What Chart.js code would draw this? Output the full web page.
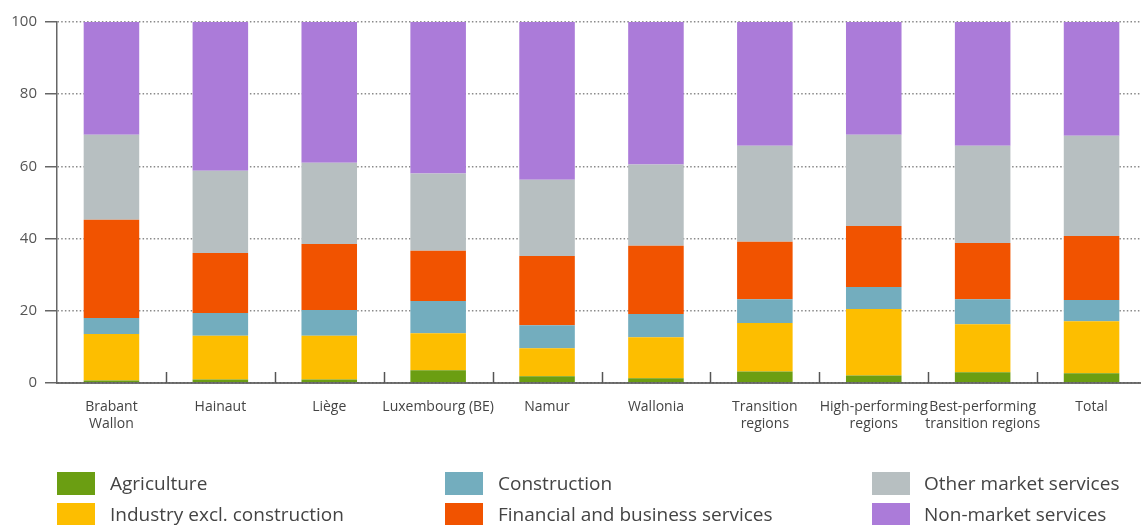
<!DOCTYPE html>
<html>
<head>
<meta charset="utf-8">
<script src="https://cdn.jsdelivr.net/npm/chart.js@4.4.1/dist/chart.umd.min.js"></script>
<style>
  html, body { margin: 0; padding: 0; background: #fff; }
  #wrap { position: relative; width: 1141px; height: 525px; overflow: hidden; }
  #c { position: absolute; left: 0; top: 0; }
  .lg { position: absolute; font-family: "Open Sans", "Noto Sans", sans-serif; font-size: 19px; color: #444; white-space: nowrap; }
  .lg .box { position: absolute; width: 38px; height: 23px; }
  .lg .txt { position: absolute; top: -2px; line-height: 26px; }
</style>
</head>
<body>
<div id="wrap">
  <canvas id="c" width="1146" height="525"></canvas>
  <div id="legend"></div>
</div>
<script>
const categories = [
  ["Brabant", "Wallon"], "Hainaut", "Liège", "Luxembourg (BE)", "Namur", "Wallonia",
  ["Transition", "regions"], ["High-performing", "regions"], ["Best-performing", "transition regions"], "Total"
];
const seriesNames = [
  "Agriculture", "Industry excl. construction", "Construction",
  "Financial and business services", "Other market services", "Non-market services"
];
const agriculture = [0.7, 1.0, 1.0, 3.5, 1.9, 1.3, 3.2, 2.1, 3.0, 2.7];
const industry    = [12.9, 12.1, 12.1, 10.3, 7.7, 11.4, 13.4, 18.4, 13.3, 14.4];
const construction = [4.4, 6.3, 7.1, 8.9, 6.4, 6.4, 6.6, 6.1, 6.9, 5.9];
const financial   = [27.2, 16.6, 18.3, 13.9, 19.2, 18.9, 15.9, 16.9, 15.6, 17.7];
const otherMarket = [23.6, 22.8, 22.5, 21.4, 21.1, 22.5, 26.6, 25.3, 26.9, 27.8];
const nonMarket   = [31.2, 41.2, 39.0, 42.0, 43.7, 39.5, 34.3, 31.2, 34.3, 31.5];
const yTicks = [0, 20, 40, 60, 80, 100];

const colors = ["#6b9e12", "#fdbe00", "#73adbe", "#f15300", "#b7bfc1", "#ab7bd9"];
const seriesValues = [agriculture, industry, construction, financial, otherMarket, nonMarket];

const datasets = seriesNames.map((n, i) => ({
  label: n,
  data: seriesValues[i],
  backgroundColor: colors[i],
  borderWidth: 0,
  barPercentage: 0.51,
  categoryPercentage: 1.0
}));

const innerTicks = {
  id: 'innerTicks',
  afterDatasetsDraw(chart) {
    const x = chart.scales.x, y = chart.scales.y, ctx = chart.ctx;
    const y0 = y.getPixelForValue(0);
    ctx.save();
    ctx.strokeStyle = '#555';
    ctx.lineWidth = 1.5;
    for (let i = 0; i < categories.length - 1; i++) {
      const px = Math.round((x.getPixelForValue(i) + x.getPixelForValue(i + 1)) / 2) + 0.5;
      ctx.beginPath();
      ctx.moveTo(px, y0);
      ctx.lineTo(px, y0 - 11);
      ctx.stroke();
    }
    ctx.restore();
  }
};

new Chart(document.getElementById('c'), {
  type: 'bar',
  data: { labels: categories, datasets },
  plugins: [innerTicks],
  options: {
    responsive: false,
    animation: false,
    layout: { padding: { top: 22, right: 0, left: 0, bottom: 0 } },
    plugins: { legend: { display: false }, tooltip: { enabled: false } },
    scales: {
      x: {
        stacked: true,
        grid: { display: false, drawTicks: false },
        border: { display: true, color: 'rgba(90,90,90,0.85)', width: 2, z: 1 },
        ticks: {
          color: '#444', padding: 16, maxRotation: 0, autoSkip: false,
          font: { family: "'Open Sans', 'Noto Sans', sans-serif", size: 14 }
        },
        afterFit(s) { s.height = 142; }
      },
      y: {
        stacked: true,
        min: 0, max: 100,
        afterBuildTicks(s) { s.ticks = yTicks.map(v => ({ value: v })); },
        grid: {
          color: '#8a8a8a', lineWidth: 1.5,
          tickColor: '#666', tickLength: 12, tickWidth: 1.5, tickBorderDash: []
        },
        border: { display: true, color: '#666', width: 1.5, dash: [1.5, 2.2] },
        ticks: {
          color: '#555', padding: 8,
          font: { family: "'Open Sans', 'Noto Sans', sans-serif", size: 15 }
        },
        afterFit(s) { s.width = 57; }
      }
    }
  }
});

// HTML legend built from the datasets
const legendPos = [
  { x: 57, y: 472, tx: 110 }, { x: 57, y: 503, tx: 110 },
  { x: 445, y: 472, tx: 498 }, { x: 445, y: 503, tx: 498 },
  { x: 872, y: 472, tx: 924 }, { x: 872, y: 503, tx: 924 }
];
const lg = document.getElementById('legend');
seriesNames.forEach((n, i) => {
  const p = legendPos[i];
  const d = document.createElement('div');
  d.className = 'lg';
  d.style.left = p.x + 'px';
  d.style.top = p.y + 'px';
  d.innerHTML = '<div class="box" style="left:0;top:0;background:' + colors[i] + '"></div>' +
    '<div class="txt" style="left:' + (p.tx - p.x) + 'px">' + n + '</div>';
  lg.appendChild(d);
});
</script>
</body>
</html>
